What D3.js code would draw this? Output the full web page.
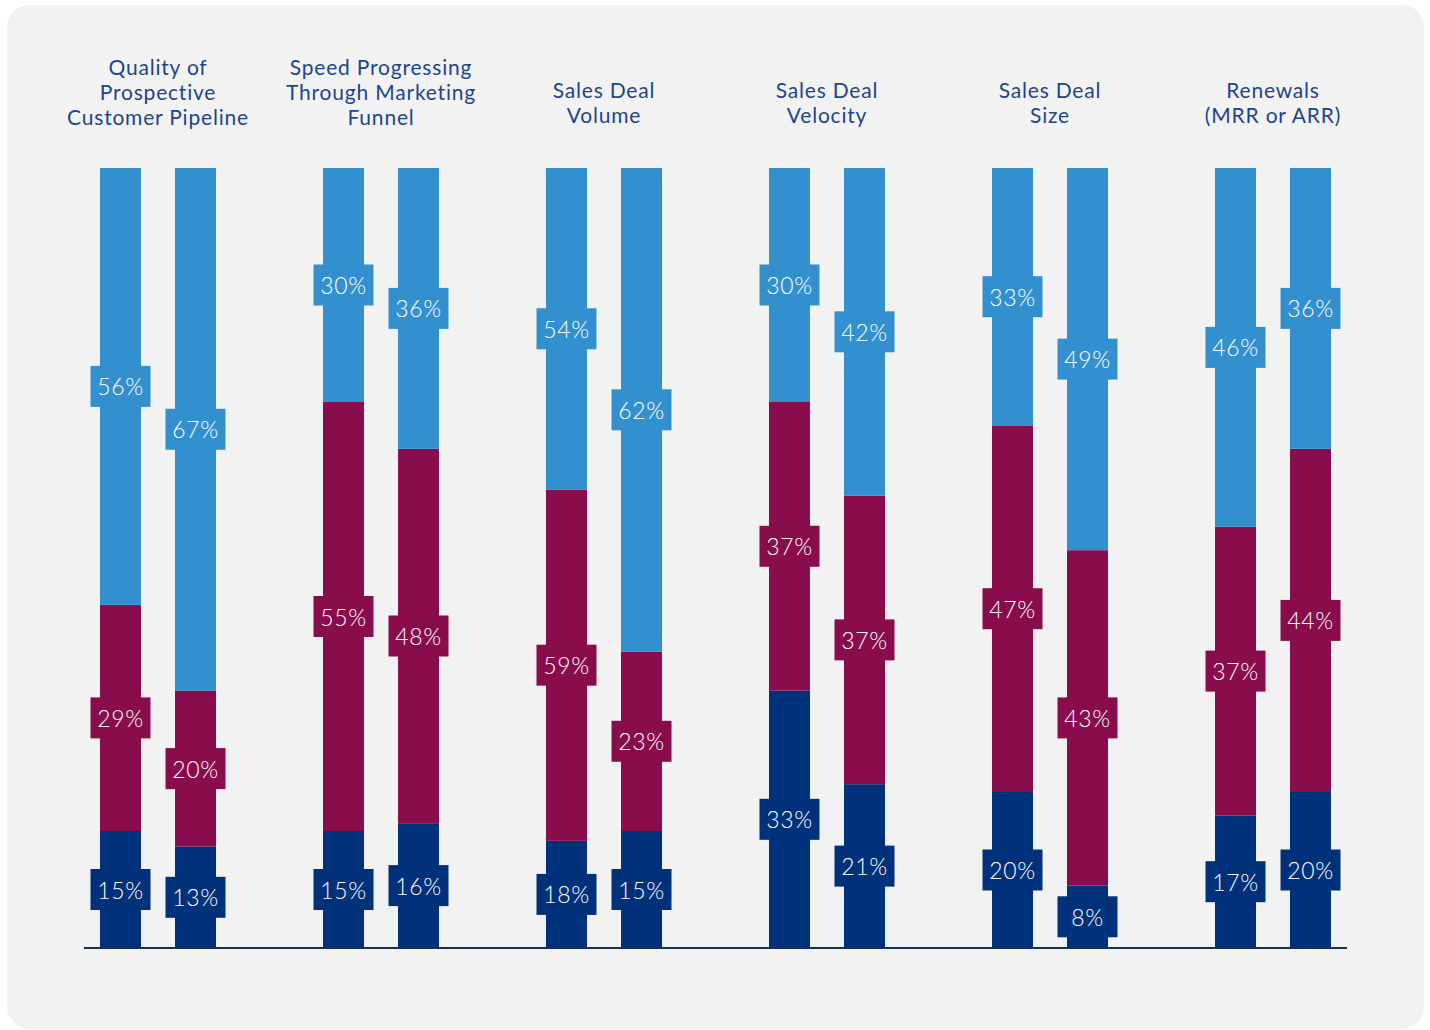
<!DOCTYPE html>
<html>
<head>
<meta charset="utf-8">
<script src="https://cdn.jsdelivr.net/npm/d3@7"></script>
<style>
  html, body { margin: 0; padding: 0; background: #ffffff; }
  svg { display: block; }
  text { font-family: Lato, "Open Sans", sans-serif; }
</style>
</head>
<body>
<svg id="chart" width="1430" height="1030"></svg>
<script>
// Metric groups, each shown as two stacked bars
const groupTitles = [
  ["Quality of", "Prospective", "Customer Pipeline"],
  ["Speed Progressing", "Through Marketing", "Funnel"],
  ["Sales Deal", "Volume"],
  ["Sales Deal", "Velocity"],
  ["Sales Deal", "Size"],
  ["Renewals", "(MRR or ARR)"]
];
const barKeys = ["first", "second"];

// Shares (%) per bar, in group order, two bars per group
const bottomShare = [15, 13, 15, 16, 18, 15, 33, 21, 20, 8, 17, 20];
const middleShare = [29, 20, 55, 48, 59, 23, 37, 37, 47, 43, 37, 44];
const topShare    = [56, 67, 30, 36, 54, 62, 30, 42, 33, 49, 46, 36];

const segmentKeys = ["bottom", "middle", "top"];
const segmentColors = { bottom: "#00317a", middle: "#890d4d", top: "#3390cf" };

// Build one row per bar
const rows = bottomShare.map((v, i) => ({
  group: Math.floor(i / 2),
  bar: barKeys[i % 2],
  bottom: v,
  middle: middleShare[i],
  top: topShare[i]
}));

const svg = d3.select("#chart");

// Card background
svg.append("rect")
  .attr("x", 7).attr("y", 5)
  .attr("width", 1417).attr("height", 1024)
  .attr("rx", 22).attr("ry", 22)
  .attr("fill", "#f2f2f2");

const x0 = d3.scaleBand()
  .domain(d3.range(groupTitles.length))
  .range([46.5, 1384.5])
  .padding(0);

const x1 = d3.scaleBand()
  .domain(barKeys)
  .range([-58, 58])
  .paddingInner(0.4533)
  .paddingOuter(0);

const y = d3.scaleLinear().domain([0, 1]).range([948, 168]);

// Each bar is drawn as a 100% stack of its three shares
const stack = d3.stack()
  .keys(segmentKeys)
  .offset(d3.stackOffsetExpand);
const series = stack(rows);

const barX = d => x0(d.data.group) + x0.bandwidth() / 2 + x1(d.data.bar);

const layers = svg.append("g").attr("class", "bars")
  .selectAll("g")
  .data(series)
  .join("g")
  .attr("fill", s => segmentColors[s.key]);

layers.selectAll("rect")
  .data(s => s)
  .join("rect")
  .attr("x", barX)
  .attr("width", x1.bandwidth())
  .attr("y", d => y(d[1]))
  .attr("height", d => y(d[0]) - y(d[1]));

// Baseline
svg.append("line")
  .attr("x1", 84).attr("x2", 1347)
  .attr("y1", 948).attr("y2", 948)
  .attr("stroke", "#14304d")
  .attr("stroke-width", 2);

// Value tags centred on each segment
const tagW = 60, tagH = 41;
const tags = svg.append("g").attr("class", "tags");
series.forEach(s => {
  s.forEach(d => {
    const cx = barX(d) + x1.bandwidth() / 2;
    const cy = (y(d[0]) + y(d[1])) / 2;
    const g = tags.append("g").attr("transform", `translate(${cx},${cy})`);
    g.append("rect")
      .attr("x", -tagW / 2).attr("y", -tagH / 2)
      .attr("width", tagW).attr("height", tagH)
      .attr("fill", segmentColors[s.key]);
    g.append("text")
      .attr("text-anchor", "middle")
      .attr("dominant-baseline", "central")
      .attr("fill", "#ffffff")
      .attr("font-size", 23)
      .attr("font-weight", 300)
      .attr("letter-spacing", 0.6)
      .text(d.data[s.key] + "%");
  });
});

// Group titles
const titleLH = 25;
svg.append("g").attr("class", "titles")
  .selectAll("text")
  .data(groupTitles)
  .join("text")
  .attr("text-anchor", "middle")
  .attr("fill", "#1d4689")
  .attr("font-size", 21)
  .attr("letter-spacing", 0.8)
  .attr("transform", (t, i) => `translate(${x0(i) + x0.bandwidth() / 2},${113 - (t.length - 1) * 23.5})`)
  .each(function(t) {
    d3.select(this).selectAll("tspan")
      .data(t)
      .join("tspan")
      .attr("x", 0)
      .attr("y", (l, j) => j * titleLH)
      .attr("dominant-baseline", "central")
      .text(l => l);
  });
</script>
</body>
</html>
